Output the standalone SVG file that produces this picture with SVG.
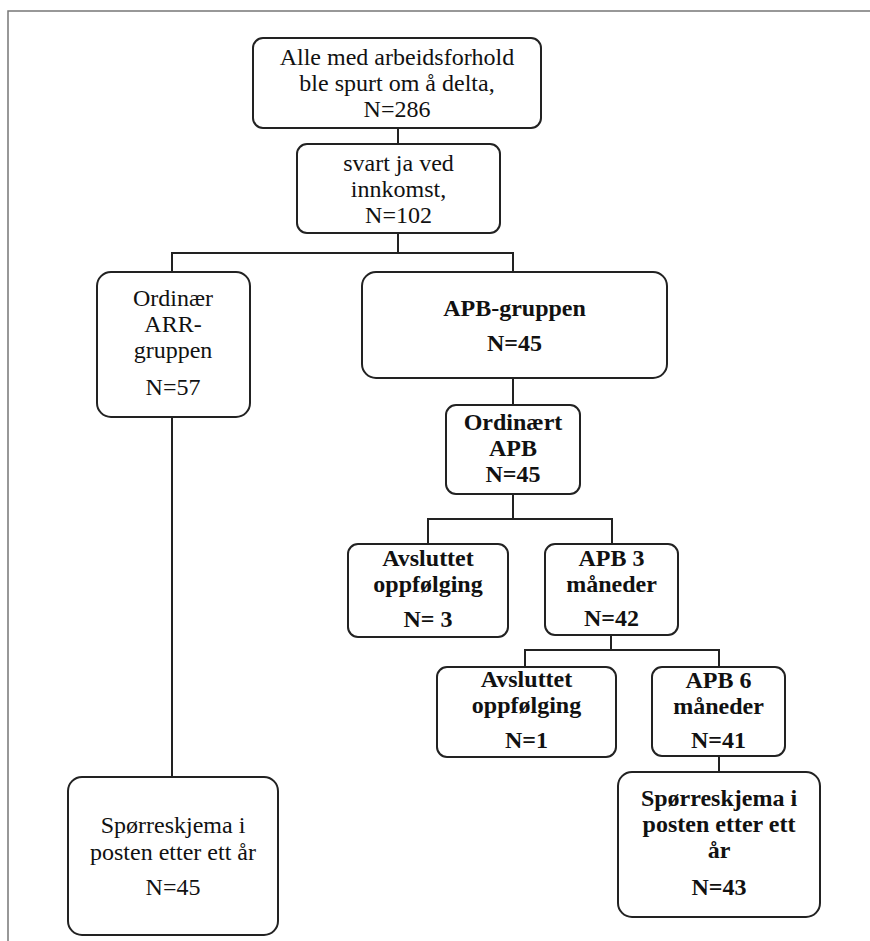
<svg xmlns="http://www.w3.org/2000/svg" width="870" height="941" viewBox="0 0 870 941">
<style>
.box{fill:#fff;stroke:#222;stroke-width:2}
.con{fill:none;stroke:#222;stroke-width:2}
.frame{fill:none;stroke:#777;stroke-width:1.5}
text{font-family:'Liberation Serif','Times New Roman','DejaVu Serif',serif;font-size:24px;fill:#111;text-anchor:middle}
.b{font-weight:bold}
</style>
<rect x="0" y="0" width="870" height="941" fill="#fff"/>
<path class="frame" d="M8,941 V11 H870"/>
<g id="connectors">
<path class="con" d="M398,128 V144"/>
<path class="con" d="M398,233 V253"/>
<path class="con" d="M172,272 V253 H513 V272"/>
<path class="con" d="M172,417 V777"/>
<path class="con" d="M513,378 V405"/>
<path class="con" d="M513,494 V519"/>
<path class="con" d="M428,544 V519 H612 V544"/>
<path class="con" d="M611,635 V650"/>
<path class="con" d="M525,667 V650 H719 V667"/>
<path class="con" d="M719,756 V772"/>
</g>
<g id="n1" font-family="Liberation Serif, serif">
<rect class="box" x="253" y="38" width="288" height="90" rx="10"/>
<text x="397" y="65">Alle med arbeidsforhold</text>
<text x="397" y="91">ble spurt om å delta,</text>
<text x="397" y="117">N=286</text>
</g>
<g id="n2">
<rect class="box" x="297" y="144" width="203" height="89" rx="10"/>
<text x="398.5" y="171">svart ja ved</text>
<text x="398.5" y="197">innkomst,</text>
<text x="398.5" y="223">N=102</text>
</g>
<g id="n3">
<rect class="box" x="97" y="272" width="153" height="145" rx="14"/>
<text x="173" y="306">Ordinær</text>
<text x="173" y="332">ARR-</text>
<text x="173" y="358">gruppen</text>
<text x="173" y="395">N=57</text>
</g>
<g id="n4">
<rect class="box" x="362" y="272" width="305" height="106" rx="14"/>
<text class="b" x="514.5" y="316">APB-gruppen</text>
<text class="b" x="514.5" y="351">N=45</text>
</g>
<g id="n5">
<rect class="box" x="446" y="405" width="134" height="89" rx="10"/>
<text class="b" x="513" y="430">Ordinært</text>
<text class="b" x="513" y="456">APB</text>
<text class="b" x="513" y="482">N=45</text>
</g>
<g id="n6">
<rect class="box" x="348" y="544" width="160" height="93" rx="10"/>
<text class="b" x="428" y="566">Avsluttet</text>
<text class="b" x="428" y="592">oppfølging</text>
<text class="b" x="428" y="627">N= 3</text>
</g>
<g id="n7">
<rect class="box" x="545" y="544" width="133" height="91" rx="10"/>
<text class="b" x="611.5" y="566">APB 3</text>
<text class="b" x="611.5" y="592">måneder</text>
<text class="b" x="611.5" y="626">N=42</text>
</g>
<g id="n8">
<rect class="box" x="437" y="667" width="179" height="90" rx="10"/>
<text class="b" x="526.5" y="687">Avsluttet</text>
<text class="b" x="526.5" y="713">oppfølging</text>
<text class="b" x="526.5" y="748">N=1</text>
</g>
<g id="n9">
<rect class="box" x="652" y="667" width="133" height="89" rx="10"/>
<text class="b" x="718.5" y="688">APB 6</text>
<text class="b" x="718.5" y="714">måneder</text>
<text class="b" x="718.5" y="748">N=41</text>
</g>
<g id="n10">
<rect class="box" x="68" y="777" width="210" height="158" rx="14"/>
<text x="173" y="833">Spørreskjema i</text>
<text x="173" y="860">posten etter ett år</text>
<text x="173" y="895">N=45</text>
</g>
<g id="n11">
<rect class="box" x="618" y="772" width="202" height="145" rx="14"/>
<text class="b" x="719" y="806">Spørreskjema i</text>
<text class="b" x="719" y="832">posten etter ett</text>
<text class="b" x="719" y="858">år</text>
<text class="b" x="719" y="895">N=43</text>
</g>
</svg>
